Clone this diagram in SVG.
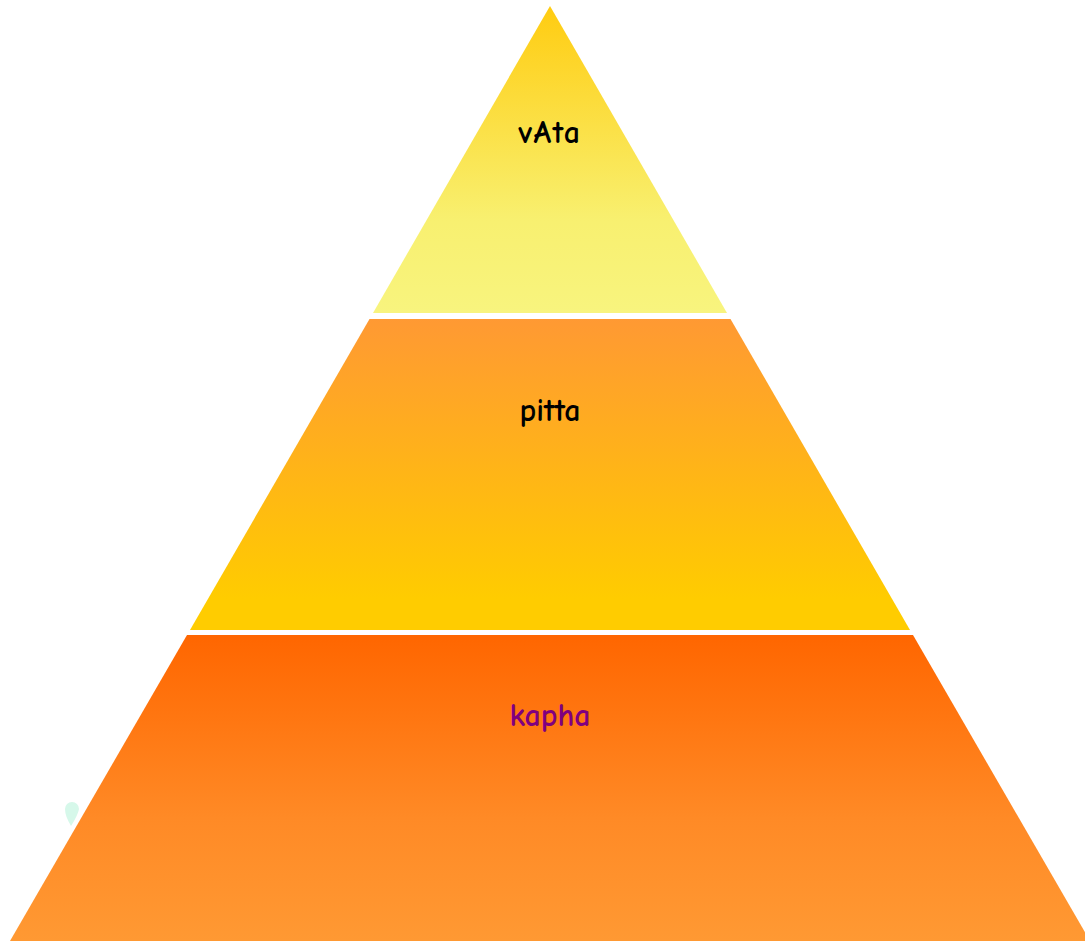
<svg xmlns="http://www.w3.org/2000/svg" width="1085" height="941" viewBox="0 0 1085 941">
  <defs>
    <linearGradient id="gTop" x1="0" y1="0" x2="0" y2="1">
      <stop offset="0" stop-color="#FFCC11"/>
      <stop offset="0.7" stop-color="#F8F070"/>
      <stop offset="1" stop-color="#F8F47E"/>
    </linearGradient>
    <linearGradient id="gMid" x1="0" y1="0" x2="0" y2="1">
      <stop offset="0" stop-color="#FF9933"/>
      <stop offset="0.9" stop-color="#FFCC00"/>
      <stop offset="1" stop-color="#FFCC00"/>
    </linearGradient>
    <linearGradient id="gBot" x1="0" y1="0" x2="0" y2="1">
      <stop offset="0" stop-color="#FF6600"/>
      <stop offset="0.6" stop-color="#FF8A26"/>
      <stop offset="1" stop-color="#FF9933"/>
    </linearGradient>
    <style>
      .lbl { font-family: "Comic Sans MS", "Comic Neue", "DejaVu Sans", sans-serif; font-size: 32px; font-weight: 700; text-anchor: middle; }
    </style>
  </defs>
  <rect width="1085" height="941" fill="#FFFFFF"/>
  <g id="vata">
    <polygon points="550,6 727,313 373,313" fill="url(#gTop)"/>
    <text class="lbl" x="550" y="143" fill="#000000" letter-spacing="1.5">vAta</text>
  </g>
  <g id="pitta">
    <polygon points="369.5,319 730.5,319 910,630 190,630" fill="url(#gMid)"/>
    <text class="lbl" x="550" y="421" fill="#000000">pitta</text>
  </g>
  <g id="kapha">
    <polygon points="187,635 913,635 1090,941 10,941" fill="url(#gBot)"/>
    <text class="lbl" x="550" y="726" fill="#800080">kapha</text>
  </g>
  <g id="blob">
    <path d="M65,809 A7,7 0 0 1 79,809 Q78,815 71,826 Q65,816 65,809 Z" fill="#D6F8EA"/>
  </g>
  <g id="connectors"/>
</svg>
